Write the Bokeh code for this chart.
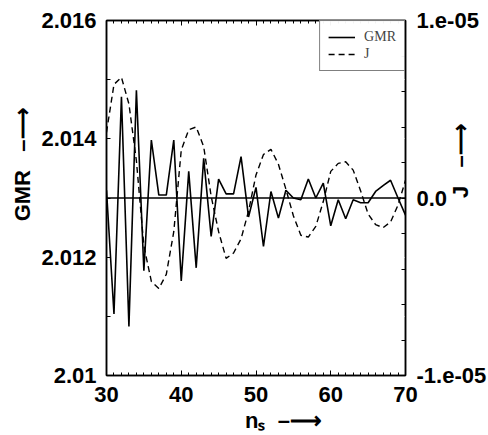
from bokeh.plotting import figure
from bokeh.models import (Range1d, LinearAxis, FixedTicker, Span, Legend,
                          LegendItem)
from bokeh.embed import file_html
from bokeh.resources import INLINE

# ---- data ----
n_s = list(range(30, 71))
gmr = [2.01313, 2.01104, 2.01471, 2.01083, 2.01482, 2.01177, 2.01398, 2.01305,
       2.01305, 2.01398, 2.01160, 2.01345, 2.01182, 2.01367, 2.01235, 2.01332,
       2.01307, 2.01307, 2.01370, 2.01268, 2.01318, 2.01218, 2.01311, 2.01266,
       2.01313, 2.01300, 2.01297, 2.01332, 2.01300, 2.01325, 2.01253, 2.01297,
       2.01265, 2.01297, 2.01292, 2.01292, 2.01311, 2.01321, 2.01330, 2.01300,
       2.01271]
j_e6 = [3.7, 6.4, 6.8, 5.3, 2.1, -2.7, -4.7, -5.1, -4.3, -1.9, 2.7, 3.85, 4.0,
        2.9, 0.1, -1.9, -3.4, -3.1, -2.3, -0.75, 1.3, 2.45, 2.74, 1.9, 0.5,
        -1.0, -2.1, -2.2, -1.6, -0.2, 1.5, 1.95, 2.04, 1.57, 0.4, -0.9, -1.5,
        -1.67, -1.35, -0.4, 1.0]
j_vals = [v * 1e-6 for v in j_e6]

x_major = [30, 40, 50, 60, 70]
x_minor = list(range(30, 71))
gmr_major = [2.010, 2.012, 2.014, 2.016]
gmr_labels = ["2.01", "2.012", "2.014", "2.016"]
gmr_minor = [2.011, 2.013, 2.015]
j_major = [-1e-05, 0.0, 1e-05]
j_labels = ["-1.e-05", "0.0", "1.e-05"]
j_minor = [-8e-06, -6e-06, -4e-06, -2e-06, 2e-06, 4e-06, 6e-06, 8e-06]

FONT = "Liberation Sans"
FS = "22px"
NB = "\u00a0"
ARROW = "\u2013\u27f6"

p = figure(width=488, height=435, x_range=Range1d(30, 70),
           y_range=Range1d(2.010, 2.016), output_backend="svg",
           toolbar_location=None, x_axis_location=None, y_axis_location=None,
           min_border_left=106, min_border_right=83, min_border_top=20,
           min_border_bottom=59)
p.extra_y_ranges = {"j": Range1d(-1e-05, 1e-05)}
# keep the grid renderers active but paint them white (invisible on white)
p.xgrid.grid_line_color = "white"
p.ygrid.grid_line_color = "white"
p.outline_line_color = "black"
p.outline_line_width = 1.5


def style(ax, tin=4, mtin=3):
    ax.axis_line_color = "black"
    ax.axis_line_width = 1.5
    ax.major_tick_in = tin
    ax.major_tick_out = 0
    ax.minor_tick_in = mtin
    ax.minor_tick_out = 0
    ax.major_label_text_font = FONT
    ax.major_label_text_font_style = "bold"
    ax.major_label_text_font_size = FS
    ax.major_label_text_color = "black"
    ax.axis_label_text_font = FONT
    ax.axis_label_text_font_style = "bold"
    ax.axis_label_text_font_size = FS
    ax.axis_label_text_color = "black"


left = LinearAxis(ticker=FixedTicker(ticks=gmr_major, minor_ticks=gmr_minor),
                  major_label_overrides=dict(zip(gmr_major, gmr_labels)),
                  axis_label=NB * 11 + "GMR" + NB * 3 + ARROW)
style(left, 4, 4)
left.major_label_standoff = 10
left.axis_label_standoff = 3
p.add_layout(left, "left")

right = LinearAxis(y_range_name="j",
                   ticker=FixedTicker(ticks=j_major, minor_ticks=j_minor),
                   major_label_overrides=dict(zip(j_major, j_labels)),
                   axis_label="J" + NB * 3 + ARROW)
style(right, 4, 4)
right.major_label_standoff = 11
right.axis_label_standoff = -29
right.axis_label_orientation = 1.5708
p.add_layout(right, "right")

bottom = LinearAxis(ticker=FixedTicker(ticks=x_major, minor_ticks=x_minor),
                    axis_label=NB * 9 + "n\u209b" + NB * 2 + ARROW)
style(bottom, 5, 3)
bottom.major_label_standoff = 11
bottom.axis_label_standoff = 3
p.add_layout(bottom, "below")

top = LinearAxis(ticker=FixedTicker(ticks=x_major, minor_ticks=x_minor),
                 major_label_overrides={t: "" for t in x_major})
style(top, 5, 3)
top.major_label_text_font_size = "1px"
top.major_label_standoff = 0
p.add_layout(top, "above")

p.add_layout(Span(location=2.013, dimension="width", line_color="black",
                  line_width=1.5))

r_gmr = p.line(n_s, gmr, line_color="black", line_width=1.6)
r_j = p.line(n_s, j_vals, y_range_name="j", line_color="black",
             line_width=1.4, line_dash="6 4")

legend = Legend(items=[LegendItem(label="GMR", renderers=[r_gmr]),
                       LegendItem(label="J", renderers=[r_j])],
                location="top_right", margin=0, padding=8, spacing=1,
                glyph_width=27, glyph_height=16, label_height=16,
                label_standoff=9, label_text_font="Liberation Serif",
                label_text_font_size="14px", border_line_color="black",
                border_line_width=1)
p.add_layout(legend)

open("out.html", "w").write(file_html(p, INLINE))
